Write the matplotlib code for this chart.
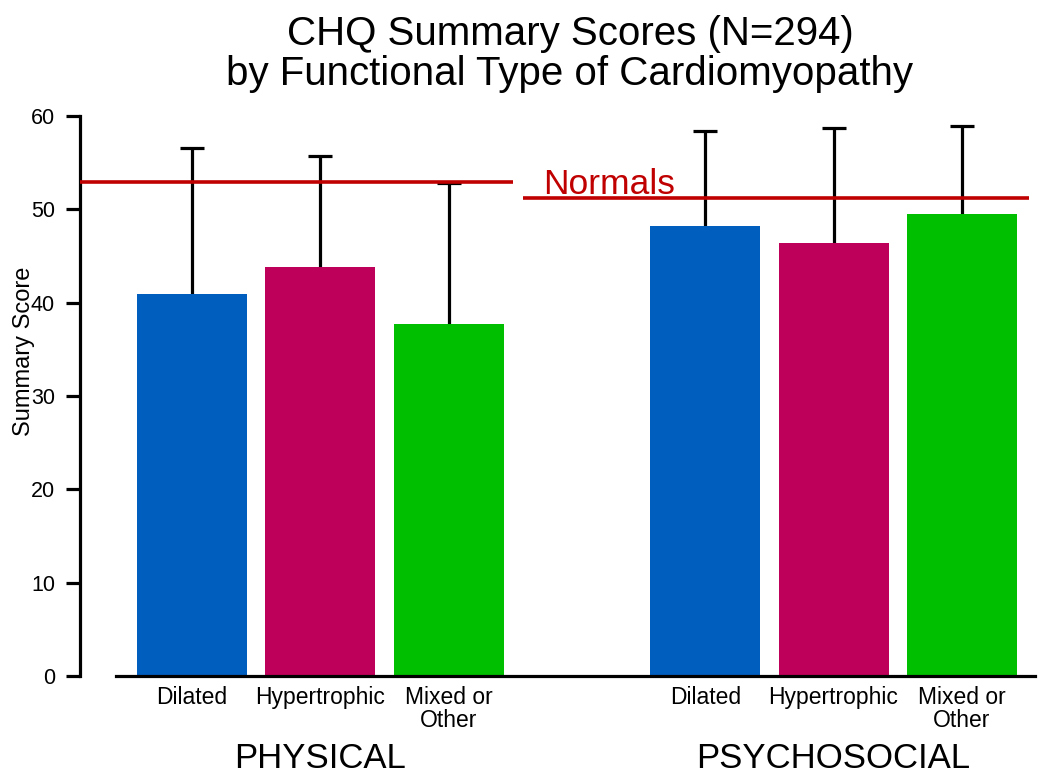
import matplotlib
matplotlib.use("Agg")
import matplotlib.pyplot as plt
import matplotlib.transforms as mtransforms

plt.rcParams['font.family'] = ['Liberation Sans', 'DejaVu Sans']

# ---- data ----
groups = ["PHYSICAL", "PSYCHOSOCIAL"]
types = ["Dilated", "Hypertrophic", "Mixed or\nOther"]
physical_means = [40.9, 43.8, 37.7]
physical_upper = [56.6, 55.7, 52.8]
psychosocial_means = [48.2, 46.4, 49.5]
psychosocial_upper = [58.4, 58.7, 58.9]
normals = [52.9, 51.2]
colors = ["#005EBF", "#BF005A", "#00BF00"]
yticks = [0, 10, 20, 30, 40, 50, 60]
title_lines = ["CHQ Summary Scores (N=294)", "by Functional Type of Cardiomyopathy"]

W, H, DPI = 1050, 782, 100
fig = plt.figure(figsize=(W / DPI, H / DPI), dpi=DPI)
ax = fig.add_axes([80 / W, (H - 676) / H, (1035 - 80) / W, (676 - 116) / H])

pos_phys = [0, 1, 2]
pos_psy = [4, 5, 6]
barw = 0.857

means_all = physical_means + psychosocial_means
upper_all = physical_upper + psychosocial_upper
pos_all = pos_phys + pos_psy
cols_all = colors + colors

ax.bar(pos_all, means_all, width=barw, color=cols_all, zorder=2)
errs_up = [u - m for u, m in zip(upper_all, means_all)]
eb = ax.errorbar(pos_all, means_all, yerr=[[0] * len(means_all), errs_up], fmt='none',
                 ecolor='black', elinewidth=2.3, capsize=8.5, capthick=2.3, zorder=1)
# hide the lower caps (only upper whiskers are drawn in the reference)
caplines = eb[1]
if len(caplines) == 2:
    caplines[0].set_visible(False)

# normals lines
ax.hlines(normals[0], -0.873, 2.50, color="#C00000", lw=2.6, zorder=3)
ax.hlines(normals[1], 2.58, 6.52, color="#C00000", lw=2.6, zorder=3)
ax.text(2.736, 51.6, "Normals", color="#C00000", fontsize=25.5, va='baseline', ha='left')

ax.set_xlim(-0.873, 6.57)
ax.set_ylim(0, 60)

for s in ['top', 'right']:
    ax.spines[s].set_visible(False)
ax.spines['left'].set_linewidth(2.3)
ax.spines['bottom'].set_linewidth(2.3)
ax.spines['bottom'].set_bounds(-0.592, 6.57)

ax.set_yticks(yticks)
ax.tick_params(axis='y', length=10, width=2.3, labelsize=15.5, pad=8)
ax.set_xticks(pos_all)
ax.set_xticklabels(types + types, fontsize=16.5, linespacing=1.0)
ax.tick_params(axis='x', length=0, pad=7)

ax.set_ylabel("Summary Score", fontsize=17)
ax.yaxis.set_label_coords((35 - 80) / 955, (676 - 351) / 560)

trans = mtransforms.blended_transform_factory(ax.transData, fig.transFigure)
ax.text(1, (H - 768) / H, groups[0], transform=trans, ha='center', va='baseline', fontsize=25)
ax.text(5, (H - 768) / H, groups[1], transform=trans, ha='center', va='baseline', fontsize=25)

fig.text(570 / W, (H - 45) / H, title_lines[0], ha='center', va='baseline', fontsize=29)
fig.text(570 / W, (H - 85) / H, title_lines[1], ha='center', va='baseline', fontsize=29)

fig.savefig("out.png", dpi=DPI)
